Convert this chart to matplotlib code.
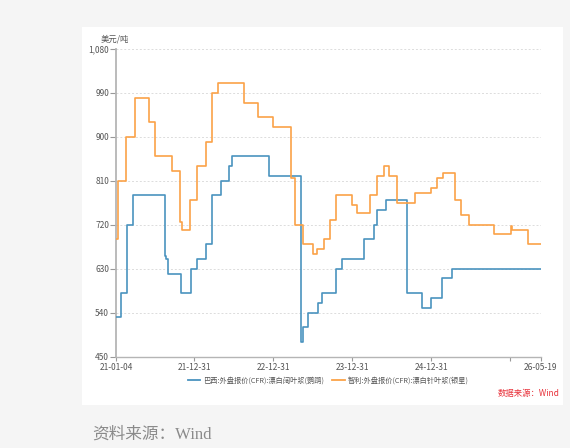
import matplotlib
matplotlib.use('Agg')
import matplotlib.pyplot as plt
import pandas as pd
from matplotlib.patches import Rectangle
from matplotlib.lines import Line2D

plt.rcParams['font.family'] = ['Noto Sans CJK SC', 'DejaVu Sans']

# Brazil bleached hardwood pulp, step change dates and prices
brazil_dates = ['2021-01-04', '2021-01-27', '2021-02-25', '2021-03-23', '2021-08-17',
                '2021-08-24', '2021-08-30', '2021-10-31', '2021-12-15', '2022-01-12',
                '2022-02-24', '2022-03-22', '2022-05-04', '2022-06-10', '2022-06-22',
                '2022-12-12', '2023-05-10', '2023-05-18', '2023-06-09', '2023-07-25',
                '2023-08-15', '2023-10-15', '2023-11-15', '2024-02-23', '2024-04-09',
                '2024-04-24', '2024-06-02', '2024-09-10', '2024-11-19', '2024-12-27',
                '2025-02-18', '2025-04-06']
brazil_vals = [530, 580, 720, 780, 655,
               650, 620, 580, 630, 650,
               680, 780, 810, 840, 860,
               820, 480, 510, 540, 560,
               580, 630, 650, 690, 720,
               750, 770, 580, 550, 570,
               610, 630]

# Chile bleached softwood pulp
chile_dates = ['2021-01-04', '2021-01-12', '2021-02-19', '2021-04-02', '2021-06-05',
               '2021-07-01', '2021-09-22', '2021-10-27', '2021-11-03', '2021-12-14',
               '2022-01-12', '2022-02-24', '2022-03-22', '2022-04-20', '2022-08-20',
               '2022-10-23', '2023-01-01', '2023-03-23', '2023-04-09', '2023-05-18',
               '2023-07-03', '2023-07-23', '2023-08-23', '2023-09-18', '2023-10-17',
               '2024-01-01', '2024-01-24', '2024-03-22', '2024-04-25', '2024-05-26',
               '2024-06-19', '2024-07-24', '2024-10-14', '2024-12-27', '2025-01-28',
               '2025-02-23', '2025-04-21', '2025-05-19', '2025-06-23', '2025-10-14',
               '2026-01-03', '2026-01-09', '2026-03-21']
chile_vals = [690, 810, 900, 980, 930,
              860, 830, 725, 710, 770,
              840, 890, 990, 1010, 970,
              940, 920, 815, 720, 680,
              660, 670, 690, 730, 780,
              760, 745, 780, 820, 840,
              820, 765, 785, 795, 815,
              825, 770, 740, 720, 700,
              718, 710, 680]

start_date = '2021-01-04'
end_date = '2026-05-19'

tick_dates = ['2021-01-04', '2021-12-31', '2022-12-31', '2023-12-31',
              '2024-12-31', '2025-12-31', '2026-05-19']
tick_labels = ['21-01-04', '21-12-31', '22-12-31', '23-12-31', '24-12-31', '', '26-05-19']
y_ticks = [450, 540, 630, 720, 810, 900, 990, 1080]

labels = ['巴西:外盘报价(CFR):漂白阔叶浆(鹦鹉)', '智利:外盘报价(CFR):漂白针叶浆(银星)']
colors = ['#4a93bf', '#fba248']

W, H = 570, 448
fig = plt.figure(figsize=(W / 100, H / 100), dpi=100)
fig.patch.set_facecolor('#f5f5f5')
fig.patches.append(Rectangle((82 / W, 1 - 405 / H), (563 - 82) / W, (405 - 27) / H,
                             transform=fig.transFigure, facecolor='white',
                             edgecolor='none', zorder=-5))

ax = fig.add_axes([116 / W, 1 - 356.5 / H, 424.5 / W, 307.5 / H])
ax.set_facecolor('none')
ax.set_zorder(2)

for dates, vals, c in [(brazil_dates, brazil_vals, colors[0]), (chile_dates, chile_vals, colors[1])]:
    x = pd.to_datetime(dates + [end_date])
    y = vals + [vals[-1]]
    ax.step(x, y, where='post', color=c, lw=1.2, zorder=3)

ax.set_xlim(pd.Timestamp(start_date), pd.Timestamp(end_date))
ax.set_ylim(450, 1080)
ax.set_yticks(y_ticks)
ax.set_yticklabels([f'{v:,}' for v in y_ticks])
ax.set_xticks(pd.to_datetime(tick_dates))
ax.set_xticklabels(tick_labels)

for v in y_ticks[1:]:
    ax.axhline(v, color='#dcdcdc', lw=0.7, ls=(0, (2, 2)), zorder=1)

for s in ['top', 'right']:
    ax.spines[s].set_visible(False)
ax.spines['left'].set_color('#b5b5b5')
ax.spines['left'].set_linewidth(1.3)
ax.spines['bottom'].set_color('#b5b5b5')
ax.spines['bottom'].set_linewidth(1.0)
ax.tick_params(axis='y', length=4, width=0.8, color='#999999', pad=1,
               labelsize=6, labelcolor='#555555')
ax.tick_params(axis='x', length=3, width=0.8, color='#999999', pad=2,
               labelsize=6, labelcolor='#555555')

fig.text(115 / W, 1 - 39 / H, '美元/吨', fontsize=6, color='#555555', ha='center', va='center')

handles = [Line2D([], [], color=c, lw=1.3) for c in colors]
fig.legend(handles, labels, loc='center', bbox_to_anchor=(328 / W, 1 - 381 / H),
           ncol=2, frameon=False, fontsize=5.2, handlelength=1.7, handletextpad=0.4,
           columnspacing=1.2, labelcolor='#555555')

fig.text(560 / W, 1 - 393 / H, '数据来源：Wind', fontsize=6, color='#e8313a',
         ha='right', va='center')

fig.text(92 / W, 1 - 435 / H, '资料来源：Wind', fontsize=12, color='#8a8a8a',
         ha='left', va='center', family=['Liberation Serif', 'Noto Sans CJK SC'])

fig.savefig('out.png', dpi=100, facecolor=fig.get_facecolor())
